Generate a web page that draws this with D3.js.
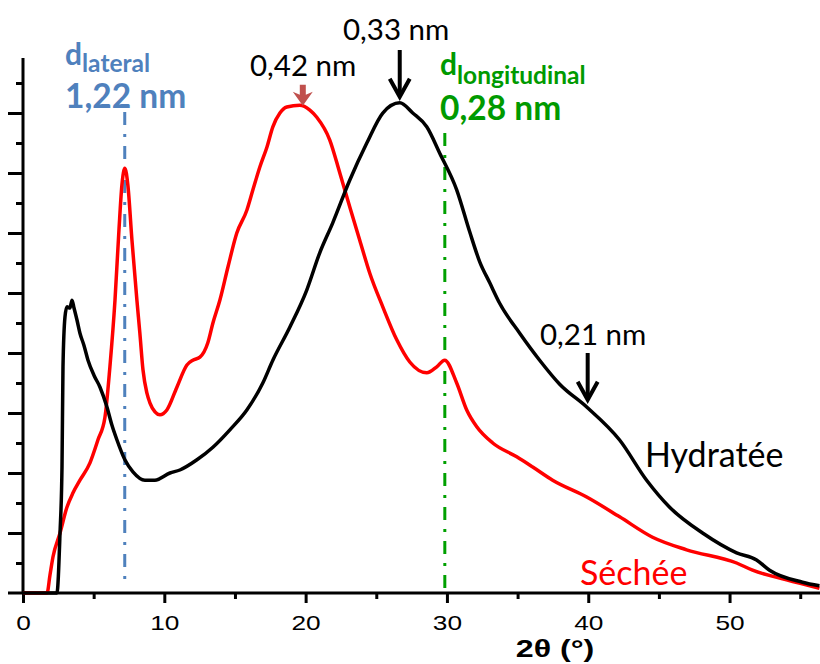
<!DOCTYPE html>
<html>
<head>
<meta charset="utf-8">
<script src="https://cdnjs.cloudflare.com/ajax/libs/d3/7.8.5/d3.min.js"></script>
<style>
  body { margin: 0; background: #fff; }
  svg { display: block; }
  .ann { font-family: Lato, "Open Sans", sans-serif; }
  .tick-lbl { font-family: "Liberation Sans", Arial, sans-serif; }
</style>
</head>
<body>
<svg id="chart" width="820" height="664"></svg>
<script>
// 2theta (deg) / intensity (arb. units)
const hydrateeX = [0, 2.33, 2.40, 2.62, 2.76, 2.83, 2.97, 3.11, 3.32, 3.47, 3.61, 3.82, 4.03, 4.31, 4.60, 5.02, 5.45, 5.94, 6.29, 6.65, 7.21, 7.78, 8.63, 9.33, 10.40, 11.10, 12.31, 13.44, 14.64, 15.84, 16.97, 17.68, 18.88, 20.08, 21.00, 21.92, 23.12, 24.33, 25.46, 26.66, 27.58, 28.57, 29.49, 30.69, 31.61, 32.32, 33.03, 33.73, 35.15, 36.56, 37.98, 39.89, 42.22, 44.13, 45.76, 48.09, 50.50, 51.91, 52.83, 55.16, 56.36];
const hydrateeY = [0, 0, 0, 1.00, 2.10, 3.77, 4.60, 4.77, 4.75, 4.88, 4.75, 4.55, 4.33, 4.13, 3.88, 3.63, 3.43, 3.10, 2.80, 2.55, 2.22, 2.02, 1.88, 1.88, 2.00, 2.05, 2.22, 2.43, 2.72, 3.05, 3.50, 3.88, 4.43, 5.05, 5.67, 6.17, 6.88, 7.50, 8.00, 8.17, 8.00, 7.77, 7.33, 6.72, 6.02, 5.52, 5.17, 4.83, 4.33, 3.88, 3.48, 3.10, 2.55, 1.88, 1.43, 1.00, 0.67, 0.55, 0.38, 0.18, 0.12];

const secheeX = [0, 1.70, 1.91, 2.12, 2.62, 3.11, 3.54, 4.03, 4.74, 5.30, 5.80, 6.15, 6.51, 6.79, 7.00, 7.21, 7.42, 7.71, 8.06, 8.27, 8.49, 8.77, 8.98, 9.34, 9.69, 10.18, 10.89, 11.60, 12.02, 12.52, 13.08, 13.44, 13.93, 14.50, 15.13, 15.84, 16.27, 16.76, 17.26, 17.68, 18.18, 18.67, 19.59, 20.30, 20.79, 21.71, 22.42, 23.13, 23.83, 24.54, 25.46, 26.45, 27.37, 28.57, 29.28, 29.84, 30.69, 31.40, 32.11, 33.24, 34.94, 36.07, 37.48, 39.89, 42.22, 44.55, 46.96, 50.50, 51.63, 54.03, 56.36];
const secheeY = [0, 0, 0.30, 0.60, 1.00, 1.43, 1.67, 1.88, 2.17, 2.55, 2.93, 3.77, 4.88, 6.05, 6.80, 7.08, 6.80, 5.88, 4.88, 4.33, 3.72, 3.33, 3.17, 3.02, 2.97, 3.05, 3.43, 3.80, 3.88, 3.93, 4.17, 4.50, 4.88, 5.43, 6.00, 6.38, 6.72, 7.10, 7.43, 7.77, 8.00, 8.10, 8.13, 8.05, 7.93, 7.55, 7.00, 6.43, 5.88, 5.33, 4.77, 4.22, 3.85, 3.67, 3.77, 3.88, 3.50, 3.05, 2.77, 2.50, 2.27, 2.10, 1.88, 1.60, 1.27, 0.93, 0.72, 0.50, 0.38, 0.22, 0.08];

const xMajorTicks = [0, 10, 20, 30, 40, 50];
const xMinorTicks = [5, 15, 25, 35, 45, 55];
const yMajorTicks = [1, 2, 3, 4, 5, 6, 7, 8];
const yMinorTicks = [0.5, 1.5, 2.5, 3.5, 4.5, 5.5, 6.5, 7.5, 8.5];

// annotated reflections (2theta)
const dLateral = 7.2;
const dLongitudinal = 29.85;
const peak042 = 19.8;
const peak033 = 26.66;
const peak021 = 39.96;

const svg = d3.select('#chart');
const x = d3.scaleLinear().domain([0, 56.4]).range([23, 820]);
const y = d3.scaleLinear().domain([0, 8.917]).range([593, 58]);

// axes
const xAxisG = svg.append('g').attr('transform', `translate(0,${y(0)})`);
xAxisG.call(d3.axisBottom(x).tickValues(xMajorTicks).tickSize(10).tickSizeOuter(0).tickFormat(d3.format('d')));
xAxisG.append('g').call(d3.axisBottom(x).tickValues(xMinorTicks).tickSize(6).tickFormat(''))
  .select('.domain').remove();
xAxisG.selectAll('.domain').remove();
xAxisG.selectAll('line').attr('stroke', '#000').attr('stroke-width', 3);
xAxisG.selectAll('.tick text')
  .attr('class', 'tick-lbl')
  .attr('y', 37).attr('dy', 0)
  .attr('font-size', 21)
  .attr('fill', '#000')
  .attr('transform', 'scale(1.25,1)');
xAxisG.append('line')
  .attr('x1', 8).attr('x2', 820)
  .attr('stroke', '#000').attr('stroke-width', 3);

const yAxisG = svg.append('g').attr('transform', `translate(${x(0)},0)`);
yAxisG.call(d3.axisLeft(y).tickValues(yMajorTicks).tickSize(15).tickFormat(''));
yAxisG.append('g').call(d3.axisLeft(y).tickValues(yMinorTicks).tickSize(7).tickFormat(''))
  .select('.domain').remove();
yAxisG.selectAll('.domain').remove();
yAxisG.selectAll('line').attr('stroke', '#000').attr('stroke-width', 3);
yAxisG.append('line')
  .attr('y1', y(8.917)).attr('y2', y(0))
  .attr('stroke', '#000').attr('stroke-width', 3);

svg.append('text')
  .attr('class', 'tick-lbl')
  .attr('transform', `translate(555,657) scale(1.4,1)`)
  .attr('text-anchor', 'middle')
  .attr('font-size', 23)
  .attr('font-weight', 'bold')
  .text('2θ (°)');

// dash-dot reference lines
svg.append('line')
  .attr('x1', x(dLateral)).attr('x2', x(dLateral))
  .attr('y1', 112).attr('y2', 585)
  .attr('stroke', '#4f81bd').attr('stroke-width', 3)
  .attr('stroke-dasharray', '13,9,3,9');
svg.append('line')
  .attr('x1', x(dLongitudinal)).attr('x2', x(dLongitudinal))
  .attr('y1', 133).attr('y2', 590)
  .attr('stroke', '#00a000').attr('stroke-width', 3)
  .attr('stroke-dasharray', '13,9,3,9');

// curves
const line = d3.line()
  .x(d => x(d[0]))
  .y(d => y(d[1]))
  .curve(d3.curveMonotoneX);

svg.append('path')
  .datum(d3.zip(secheeX, secheeY))
  .attr('d', line)
  .attr('fill', 'none')
  .attr('stroke', '#ff0000')
  .attr('stroke-width', 3.5)
  .attr('stroke-linejoin', 'round');

svg.append('path')
  .datum(d3.zip(hydrateeX, hydrateeY))
  .attr('d', line)
  .attr('fill', 'none')
  .attr('stroke', '#000')
  .attr('stroke-width', 3.5)
  .attr('stroke-linejoin', 'round');

// arrows
function arrow(xv, yTop, yTip, color, w) {
  const px = x(xv), t = y(yTop), b = y(yTip);
  svg.append('line')
    .attr('x1', px).attr('x2', px).attr('y1', t).attr('y2', b - 2)
    .attr('stroke', color).attr('stroke-width', w);
  svg.append('path')
    .attr('d', `M${px - 10},${b - 18}L${px},${b}L${px + 10},${b - 18}`)
    .attr('fill', 'none').attr('stroke', color).attr('stroke-width', w)
    .attr('stroke-linejoin', 'miter');
}
arrow(peak033, 9.05, 8.27, '#000', 4);
arrow(peak021, 4.0, 3.22, '#000', 4);

const p42 = x(peak042);
svg.append('path')
  .attr('d', `M${p42 - 3},${y(8.47)}h6v10l7,-3l-10,14l-10,-14l7,3z`)
  .attr('fill', '#c0504d');

// texts
const ann = svg.append('g').attr('class', 'ann');

const lat = ann.append('text').attr('x', 65).attr('y', 65).attr('fill', '#4f81bd').attr('font-weight', 'bold');
lat.append('tspan').attr('font-size', 30).text('d');
lat.append('tspan').attr('font-size', 24.5).attr('dy', 7).text('lateral');
ann.append('text').attr('x', 65).attr('y', 108).attr('fill', '#4f81bd')
  .attr('font-weight', 'bold').attr('font-size', 33.5).text('1,22 nm');

const lon = ann.append('text').attr('x', 440).attr('y', 75).attr('fill', '#009a00').attr('font-weight', 'bold');
lon.append('tspan').attr('font-size', 30).text('d');
lon.append('tspan').attr('font-size', 24.5).attr('dy', 9).text('longitudinal');
ann.append('text').attr('x', 440).attr('y', 120).attr('fill', '#009a00')
  .attr('font-weight', 'bold').attr('font-size', 33.5).text('0,28 nm');

ann.append('text').attr('x', 250).attr('y', 76).attr('font-size', 29.5).text('0,42 nm');
ann.append('text').attr('x', 343).attr('y', 40).attr('font-size', 29.5).text('0,33 nm');
ann.append('text').attr('x', 540).attr('y', 345).attr('font-size', 29.5).text('0,21 nm');
ann.append('text').attr('x', 645).attr('y', 467).attr('font-size', 34).text('Hydratée');
ann.append('text').attr('x', 580).attr('y', 585).attr('font-size', 34).attr('fill', '#ff0000').text('Séchée');
</script>
</body>
</html>
